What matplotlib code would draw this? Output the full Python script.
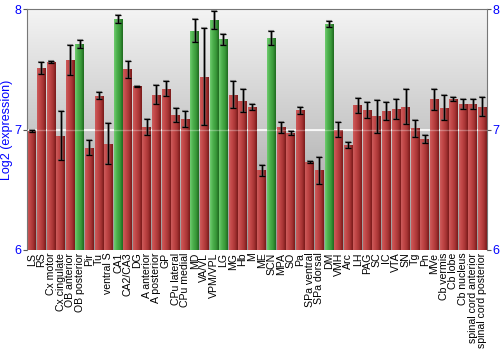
import numpy as np
import matplotlib
matplotlib.use('Agg')
import matplotlib.pyplot as plt
from matplotlib.colors import LinearSegmentedColormap

# regions along the x axis
regions = ['LS', 'RS', 'Cx motor', 'Cx cingulate', 'OB anterior', 'OB posterior', 'Pir', 'Tu',
           'ventral S', 'CA1', 'CA2/CA3', 'DG', 'A anterior', 'A posterior', 'GP', 'CPu lateral',
           'CPu medial', 'MD', 'VA/VL', 'VPM/VPL', 'LG', 'MG', 'Hb', 'M', 'ME', 'SCN', 'MPA', 'SO',
           'Pa', 'SPa ventral', 'SPa dorsal', 'DM', 'VMH', 'Arc', 'LH', 'PAG', 'SC', 'IC', 'VTA',
           'SN', 'Tg', 'Pn', 'MVe', 'Cb vermis', 'Cb lobe', 'Cb nucleus', 'spinal cord anterior',
           'spinal cord posterior']

# mean log2 expression per region
expr = [6.99, 7.51, 7.56, 6.95, 7.575, 7.71, 6.85, 7.28,
        6.88, 7.92, 7.50, 7.36, 7.02, 7.29, 7.34, 7.12,
        7.09, 7.82, 7.44, 7.91, 7.75, 7.29, 7.24, 7.19, 6.66, 7.76, 7.02, 6.97,
        7.16, 6.73, 6.66, 7.875, 7.00, 6.87, 7.20, 7.16, 7.11, 7.15, 7.17,
        7.19, 7.01, 6.92, 7.25, 7.18, 7.25, 7.21, 7.21,
        7.19]

# standard error per region
err = [0.01, 0.05, 0.01, 0.20, 0.125, 0.035, 0.065, 0.03,
       0.17, 0.035, 0.07, 0.005, 0.065, 0.08, 0.06, 0.06,
       0.067, 0.095, 0.40, 0.075, 0.045, 0.115, 0.095, 0.025, 0.045, 0.06, 0.045, 0.015,
       0.03, 0.012, 0.115, 0.025, 0.06, 0.025, 0.06, 0.065, 0.135, 0.075, 0.083,
       0.145, 0.07, 0.035, 0.085, 0.105, 0.017, 0.04, 0.04,
       0.08]

# regions highlighted in green
highlight = ['OB posterior', 'CA1', 'MD', 'VPM/VPL', 'LG', 'SCN', 'DM']

blue = '#0000ff'
font = 'Liberation Sans'
red_cmap = LinearSegmentedColormap.from_list('r', ['#cc5c5c', '#c04646', '#a83535', '#7a1a1a'])
green_cmap = LinearSegmentedColormap.from_list('g', ['#70cc70', '#4cb04c', '#3a9a3a', '#1f6a1f'])

fig = plt.figure(figsize=(5, 3.5), dpi=100)
ax = fig.add_axes([0.054, 0.286, 0.92, 0.688])

x = np.arange(len(regions))
xmin, xmax = -0.5, len(regions) - 0.5

# grey vertical gradient background, light at the top
bg = np.linspace(0, 1, 256).reshape(-1, 1)
bg_cmap = LinearSegmentedColormap.from_list('bg', ['#f4f4f4', '#c8c8c8', '#989898'])
ax.imshow(bg, cmap=bg_cmap, extent=[xmin, xmax, 6, 8], origin='upper', aspect='auto', zorder=0)
ax.axhline(7, color='white', lw=1.2, zorder=1)

bars = ax.bar(x, np.array(expr) - 6, bottom=6, width=0.9, color='none', zorder=2)
grad = np.linspace(0, 1, 64).reshape(1, -1)
for b, name in zip(bars, regions):
    cmap = green_cmap if name in highlight else red_cmap
    x0, y0 = b.get_x(), b.get_y()
    im = ax.imshow(grad, cmap=cmap, extent=[x0, x0 + b.get_width(), y0, y0 + b.get_height()],
                   aspect='auto', zorder=2)
    im.set_clip_path(b)

ax.axhline(7, color='white', lw=1.0, alpha=0.3, zorder=3)
ax.errorbar(x, expr, yerr=err, fmt='none', ecolor='#606060', elinewidth=2, capsize=2.5,
            capthick=1.5, alpha=0.6, zorder=4)
ax.errorbar(x, expr, yerr=err, fmt='none', ecolor='black', elinewidth=0.9, capsize=2,
            capthick=0.9, zorder=5)
ax.set_xlim(xmin, xmax)
ax.set_ylim(6, 8)

ax.set_xticks(x)
ax.set_xticklabels(regions, rotation=90, fontsize=7.6, family=font)
ax.tick_params(axis='x', length=0, pad=2)
ax.set_yticks([6, 7, 8])
ax.tick_params(axis='y', colors='#555555', labelcolor=blue, labelsize=9, length=3,
               left=True, right=True, labelleft=True, labelright=True, pad=1)
for lab in ax.get_yticklabels():
    lab.set_family(font)

for side in ['left', 'right', 'top']:
    ax.spines[side].set_color('#777777')
ax.spines['bottom'].set_visible(False)

ax.set_ylabel('Log2 (expression)', color=blue, fontsize=9, family=font, labelpad=1)

fig.savefig('out.png', dpi=100)
